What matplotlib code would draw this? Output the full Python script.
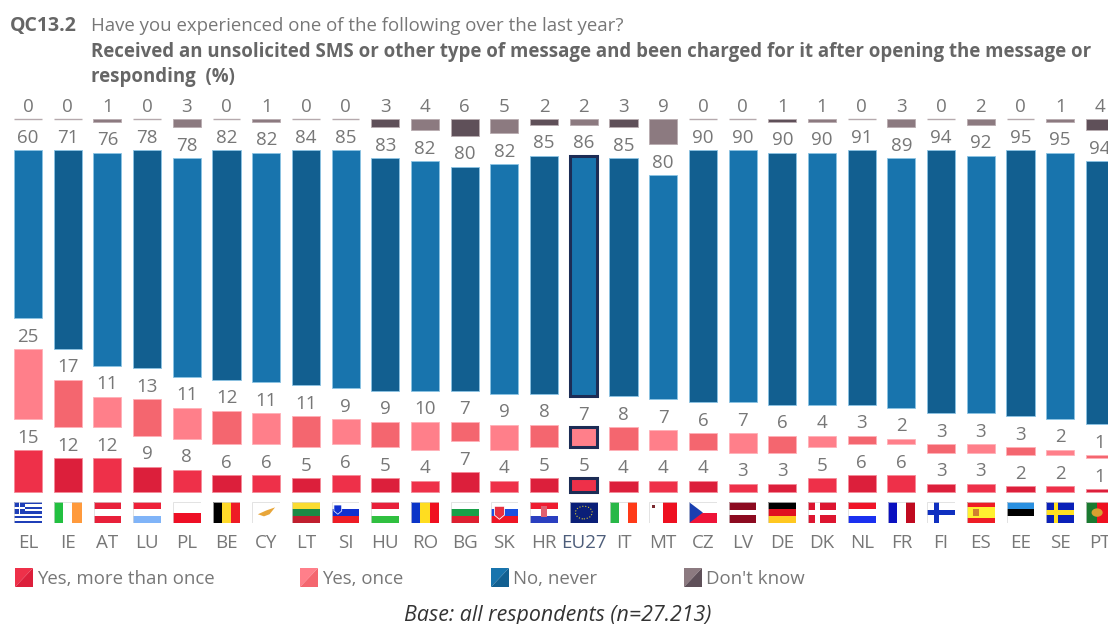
import matplotlib
matplotlib.use("Agg")
import matplotlib.pyplot as plt
from matplotlib.patches import Circle, Polygon, Rectangle

plt.rcParams["font.family"] = ["Open Sans", "DejaVu Sans"]

W, H = 1108, 624

countries = ["EL", "IE", "AT", "LU", "PL", "BE", "CY", "LT", "SI", "HU", "RO", "BG", "SK", "HR",
             "EU27", "IT", "MT", "CZ", "LV", "DE", "DK", "NL", "FR", "FI", "ES", "EE", "SE", "PT"]
more_than_once = [15, 12, 12, 9, 8, 6, 6, 5, 6, 5, 4, 7, 4, 5, 5, 4, 4, 4, 3, 3, 5, 6, 6, 3, 3, 2, 2, 1]
once = [25, 17, 11, 13, 11, 12, 11, 11, 9, 9, 10, 7, 9, 8, 7, 8, 7, 6, 7, 6, 4, 3, 2, 3, 3, 3, 2, 1]
never = [60, 71, 76, 78, 78, 82, 82, 84, 85, 83, 82, 80, 82, 85, 86, 85, 80, 90, 90, 90, 90, 91, 89,
         94, 92, 95, 95, 94]
dont_know = [0, 0, 1, 0, 3, 0, 1, 0, 0, 3, 4, 6, 5, 2, 2, 3, 9, 0, 0, 1, 1, 0, 3, 0, 2, 0, 1, 4]

series = [more_than_once, once, never, dont_know]
legend_names = ["Yes, more than once", "Yes, once", "No, never", "Don't know"]
# light / dark shade per series, columns alternate between them
shades = [("#ee3049", "#dc1f3b"), ("#ff7f8a", "#f4666f"), ("#1874ad", "#125f90"), ("#8c7a80", "#5f5059")]
edges = ["#f58a98", "#ffb0b8", "#8cc4e4", "#b8acb0"]

# flag stripes, top to bottom ("h") or left to right ("v")
WHITE = "#ffffff"
stripes = {
    "EL": ("h", ["#1f3fb8", WHITE] * 4 + ["#1f3fb8"]),
    "IE": ("v", ["#22c040", WHITE, "#ff9a3c"]),
    "AT": ("h", ["#e8203a", WHITE, "#e8203a"]),
    "LU": ("h", ["#ee2038", WHITE, "#80b4f8"]),
    "PL": ("h", [WHITE, "#ee0f25"]),
    "BE": ("v", ["#000000", "#ffd92a", "#ee1c25"]),
    "CY": ("h", [WHITE]),
    "LT": ("h", ["#fbdc30", "#1c8a45", "#c01f2e"]),
    "SI": ("h", [WHITE, "#1030d0", "#ee1c25"]),
    "HU": ("h", ["#e8203a", WHITE, "#30c040"]),
    "RO": ("v", ["#0c35c8", "#ffdd20", "#f01020"]),
    "BG": ("h", [WHITE, "#18a048", "#dd1f30"]),
    "SK": ("h", [WHITE, "#1a50e0", "#ee1525"]),
    "HR": ("h", ["#ee1c30", WHITE, "#2a3fc0"]),
    "EU27": ("h", ["#0a1f78"]),
    "IT": ("v", ["#28b848", WHITE, "#ff3a18"]),
    "MT": ("v", [WHITE, "#ee1020"]),
    "CZ": ("h", [WHITE, "#ee1438"]),
    "LV": ("h", ["#8c0a20", "#8c0a20", WHITE, "#8c0a20", "#8c0a20"]),
    "DE": ("h", ["#000000", "#e01020", "#ffc820"]),
    "DK": ("h", ["#dd1530"]),
    "NL": ("h", ["#f01428", WHITE, "#1a30f0"]),
    "FR": ("v", ["#0a10c0", WHITE, "#c00a20"]),
    "FI": ("h", [WHITE]),
    "ES": ("h", ["#ee1c25", "#fff030", "#fff030", "#ee1c25"]),
    "EE": ("h", ["#2a90e0", "#000000", WHITE]),
    "SE": ("h", ["#0a20b8"]),
    "PT": ("v", ["#1a7a30", "#1a7a30", "#ee1020", "#ee1020", "#ee1020"]),
}
crosses = {"DK": WHITE, "FI": "#1030c0", "SE": "#ffe020"}


def draw_flag(fax, code):
    fax.set_xlim(0, 1)
    fax.set_ylim(0, 1)
    fax.axis("off")
    direction, cols = stripes[code]
    n = len(cols)
    for k, c in enumerate(cols):
        if direction == "h":
            fax.add_patch(Rectangle((0, 1 - (k + 1) / n), 1, 1 / n, color=c, lw=0))
        else:
            fax.add_patch(Rectangle((k / n, 0), 1 / n, 1, color=c, lw=0))
    if code in crosses:
        fax.add_patch(Rectangle((0.26, 0), 0.17, 1, color=crosses[code], lw=0))
        fax.add_patch(Rectangle((0, 0.39), 1, 0.22, color=crosses[code], lw=0))
    if code == "EL":
        fax.add_patch(Rectangle((0, 0.45), 0.38, 0.55, color="#1f3fb8", lw=0))
        fax.add_patch(Rectangle((0.16, 0.45), 0.07, 0.55, color=WHITE, lw=0))
        fax.add_patch(Rectangle((0, 0.67), 0.38, 0.11, color=WHITE, lw=0))
    elif code == "CY":
        fax.add_patch(Polygon([(0.2, 0.42), (0.5, 0.6), (0.82, 0.75), (0.62, 0.42), (0.42, 0.32)],
                              color="#e8a63a", lw=0))
    elif code == "SI":
        fax.add_patch(Polygon([(0.08, 0.86), (0.36, 0.86), (0.36, 0.58), (0.22, 0.42), (0.08, 0.58)],
                              color="#1030d0", ec=WHITE, lw=0.5))
    elif code == "SK":
        fax.add_patch(Polygon([(0.14, 0.8), (0.5, 0.8), (0.5, 0.38), (0.32, 0.18), (0.14, 0.38)],
                              color="#e83040", ec=WHITE, lw=0.6))
    elif code == "HR":
        fax.add_patch(Rectangle((0.38, 0.28), 0.24, 0.52, color="#e06070", lw=0))
    elif code == "EU27":
        fax.add_patch(Circle((0.5, 0.5), 0.3, fill=False, ec="#d8c830", lw=0.8, ls=":"))
    elif code == "MT":
        fax.add_patch(Rectangle((0.1, 0.72), 0.12, 0.14, color="#7a2a30", lw=0))
    elif code == "CZ":
        fax.add_patch(Polygon([(0, 0), (0.5, 0.5), (0, 1)], color="#1a3fb0", lw=0))
    elif code == "ES":
        fax.add_patch(Rectangle((0.22, 0.33), 0.2, 0.34, color="#d08030", lw=0))
    elif code == "PT":
        fax.add_patch(Circle((0.4, 0.5), 0.2, color="#d8a030", lw=0))
    fax.add_patch(Rectangle((0, 0), 1, 1, fill=False, ec="#d8d8d8", lw=0.5))


fig = plt.figure(figsize=(W / 100, H / 100), dpi=100, facecolor="white")
ax = fig.add_axes([0, 0, 1, 1])
# one column = 39.7 px, one percentage point = 2.8 px
ax.set_xlim(-28 / 39.7, (W - 28) / 39.7)
ax.set_ylim((492 - H) / 2.8, 492 / 2.8)
ax.axis("off")

GREY = "#777777"
NAVY = "#1c2c55"
gap = 11.07
eu = countries.index("EU27")

for i, code in enumerate(countries):
    base = 0
    for s, vals in enumerate(series):
        v = vals[i]
        col = shades[s][i % 2]
        if v == 0:
            ax.plot([i - 0.35, i + 0.35], [base, base], color="#b5a9ad", lw=1.0, solid_capstyle="butt")
        elif i == eu and s < 3:
            ax.bar(i, v, 0.68, bottom=base, color=col, edgecolor=NAVY, linewidth=2.2)
        else:
            ax.bar(i, v, 0.71, bottom=base, color=col, edgecolor=edges[s], linewidth=0.6)
        ax.text(i, base + v + 4.4, str(v), ha="center", va="center", fontsize=13.5, color=GREY)
        base += v + gap
    ax.text(i, -18.3, code, ha="center", va="center", fontsize=13.5,
            color="#4d5d7a" if code == "EU27" else GREY)
    draw_flag(ax.inset_axes([i - 0.35, -11.1, 0.7, 7.5], transform=ax.transData), code)


def put(x, y, s, **kw):
    return fig.text(x / W, 1 - y / H, s, va="center", **kw)


put(10, 26, "QC13.2", fontsize=14, fontweight="bold", color="#666666")
put(91, 26, "Have you experienced one of the following over the last year?", fontsize=13.4, color="#777777")
put(91, 52, "Received an unsolicited SMS or other type of message and been charged for it after opening the message or",
    fontsize=13.4, fontweight="bold", color="#666666")
put(91, 77, "responding  (%)", fontsize=13.4, fontweight="bold", color="#666666")

# legend swatches are split diagonally into the two shades
legend_x = [15, 300, 491, 684]
for lx, name, (light, dark) in zip(legend_x, legend_names, shades):
    x0, x1 = lx / W, (lx + 18) / W
    y0, y1 = 1 - 587 / H, 1 - 568 / H
    fig.add_artist(Polygon([(x0, y0), (x0, y1), (x1, y1)], transform=fig.transFigure, color=light, lw=0))
    fig.add_artist(Polygon([(x0, y0), (x1, y0), (x1, y1)], transform=fig.transFigure, color=dark, lw=0))
    put(lx + 22, 579, name, fontsize=13.4, color=GREY)

put(558, 616, "Base: all respondents (n=27.213)", fontsize=15.4, style="italic", color="#333333", ha="center")

fig.savefig("out.png", dpi=100, facecolor="white")
